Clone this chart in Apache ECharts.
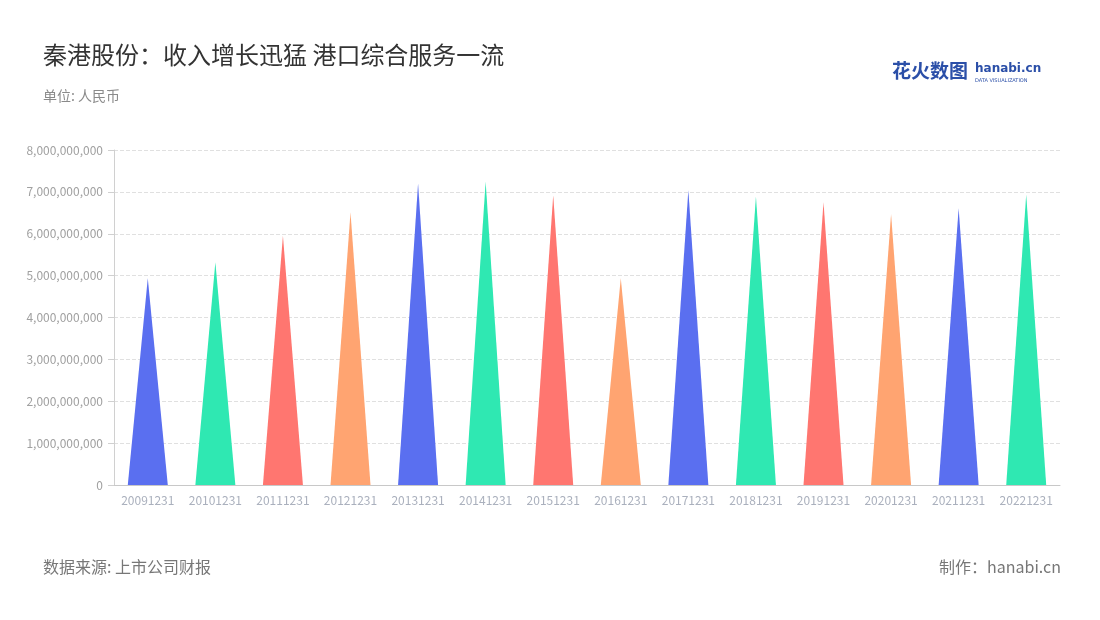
<!DOCTYPE html>
<html><head><meta charset="utf-8">
<script src="https://cdn.jsdelivr.net/npm/echarts@6/dist/echarts.min.js"></script>
<style>html,body{margin:0;padding:0;background:#fff}#c{width:1100px;height:620px}</style>
</head><body><div id="c"></div>
<script>
const categories = ['20091231','20101231','20111231','20121231','20131231','20141231','20151231','20161231','20171231','20181231','20191231','20201231','20211231','20221231'];
const revenue = [4940000000,5320000000,5950000000,6510000000,7200000000,7250000000,6920000000,4940000000,7040000000,6890000000,6750000000,6470000000,6610000000,6940000000];
const palette = ['#5a6ff0','#2fe8b2','#ff7670','#ffa471'];
const yTicks = {min:0, max:8000000000, interval:1000000000};

const chart = echarts.init(document.getElementById('c'));
const font = '"Noto Sans CJK SC","Noto Sans",sans-serif';
chart.setOption({
  backgroundColor:'#fff',
  textStyle:{fontFamily:font},
  title:[
    {text:'秦港股份：收入增长迅猛 港口综合服务一流', left:38, top:38, textStyle:{fontSize:24, fontWeight:'normal', color:'#333', fontFamily:font}},
    {text:'单位: 人民币', left:38, top:84, textStyle:{fontSize:14, fontWeight:'normal', color:'#8a8a8a', fontFamily:font}},
    {text:'数据来源: 上市公司财报', left:38, top:554, textStyle:{fontSize:16, fontWeight:'normal', color:'#777', fontFamily:font}},
    {text:'制作：hanabi.cn', right:34, top:554, textStyle:{fontSize:16, fontWeight:'normal', color:'#777', fontFamily:font}}
  ],
  graphic:[
    {type:'text', left:892, top:61, style:{text:'花火数图', fill:'#2b4fa8', font:'bold 19px "Noto Sans CJK SC"'}},
    {type:'text', left:975, top:63, style:{text:'hanabi.cn', fill:'#2b4fa8', font:'bold 12px "DejaVu Sans"'}},
    {type:'text', left:975, top:78, style:{text:'DATA VISUALIZATION', fill:'#2b4fa8', font:'5px "DejaVu Sans"'}}
  ],
  grid:{left:114, right:40, top:150, bottom:135},
  xAxis:{
    type:'category', data:categories,
    axisLine:{lineStyle:{color:'#c8c8c8'}},
    axisTick:{alignWithLabel:true, lineStyle:{color:'#c8c8c8'}},
    axisLabel:{color:'#aab0bd', fontSize:12, margin:9, interval:0}
  },
  yAxis:{
    type:'value', min:yTicks.min, max:yTicks.max, interval:yTicks.interval,
    axisLine:{show:true, lineStyle:{color:'#d0d0d0'}},
    axisTick:{show:true, length:6, lineStyle:{color:'#d0d0d0'}},
    axisLabel:{color:'#a0a0a0', fontSize:12, margin:11, formatter:v=>v.toLocaleString('en-US')},
    splitLine:{lineStyle:{type:'dashed', color:'#e0e0e0'}}
  },
  series:[{
    type:'pictorialBar',
    symbol:'path://M0,10 L10,10 L5,0 L0,10 z',
    barWidth:40,
    data:revenue.map((v,i)=>({value:v, itemStyle:{color:palette[i%4]}})),
    z:10
  }]
});
</script></body></html>
